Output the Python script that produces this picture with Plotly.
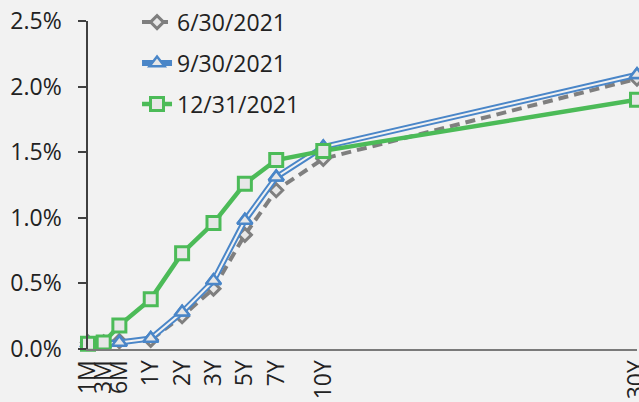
import plotly.graph_objects as go

# Maturities, their positions on the chart's x scale, and yields (%)
maturities = ["1M", "3M", "6M", "1Y", "2Y", "3Y", "5Y", "7Y", "10Y", "30Y"]
x_positions = [0, 0.5, 1, 2, 3, 4, 5, 6, 7.5, 17.5]

y_jun = [0.05, 0.05, 0.06, 0.07, 0.25, 0.46, 0.87, 1.21, 1.45, 2.06]
y_sep = [0.04, 0.04, 0.05, 0.08, 0.28, 0.52, 0.98, 1.31, 1.54, 2.09]
y_dec = [0.04, 0.05, 0.18, 0.38, 0.73, 0.96, 1.26, 1.44, 1.51, 1.90]

series_names = ["6/30/2021", "9/30/2021", "12/31/2021"]
y_ticks = [0, 0.5, 1.0, 1.5, 2.0, 2.5]
y_tick_labels = ["0.0%", "0.5%", "1.0%", "1.5%", "2.0%", "2.5%"]

GRAY = "#7f7f7f"
BLUE = "#4a86c8"
GREEN = "#4cbb58"
FILL = "#e7e7e7"
BG = "#f2f2f2"
FONT = "Open Sans"
FS = 23
TXT = "#222222"

fig = go.Figure()

fig.add_trace(go.Scatter(
    x=x_positions, y=y_jun, name=series_names[0], mode="lines+markers",
    line=dict(color=GRAY, width=4, dash="10px,6px"),
    marker=dict(symbol="diamond", size=10, color=FILL, line=dict(color=GRAY, width=3)),
    cliponaxis=False, legendgroup="a",
))
# blue compound (double) line: thick blue, thin light centre, then markers on top
fig.add_trace(go.Scatter(
    x=x_positions, y=y_sep, name=series_names[1], mode="lines+markers",
    line=dict(color=BLUE, width=6),
    marker=dict(symbol="triangle-up", size=13, color=FILL, line=dict(color=BLUE, width=2.5)),
    cliponaxis=False, legendgroup="b",
))
fig.add_trace(go.Scatter(
    x=x_positions, y=y_sep, mode="lines", showlegend=False, hoverinfo="skip",
    line=dict(color=BG, width=2), cliponaxis=False,
))
fig.add_trace(go.Scatter(
    x=x_positions, y=y_sep, mode="markers", showlegend=False, hoverinfo="skip",
    marker=dict(symbol="triangle-up", size=13, color=FILL, line=dict(color=BLUE, width=2.5)),
    cliponaxis=False,
))
fig.add_trace(go.Scatter(
    x=x_positions, y=y_dec, name=series_names[2], mode="lines+markers",
    line=dict(color=GREEN, width=4.5),
    marker=dict(symbol="square", size=13, color=FILL, line=dict(color=GREEN, width=3)),
    cliponaxis=False, legendgroup="c",
))

fig.update_layout(
    width=639, height=402,
    paper_bgcolor=BG, plot_bgcolor=BG,
    margin=dict(l=88, r=2, t=21, b=53, autoexpand=False),
    font=dict(family=FONT, size=FS, color=TXT),
    showlegend=True,
    legend=dict(
        x=0.0893, y=1.062, xanchor="left", yanchor="top",
        bgcolor="rgba(0,0,0,0)", font=dict(family=FONT, size=FS, color=TXT),
        tracegroupgap=8, itemwidth=30,
    ),
    xaxis=dict(
        range=[0, 17.5], tickmode="array", tickvals=x_positions, ticktext=maturities,
        tickangle=-90, showgrid=False, zeroline=False, automargin=False,
        showline=True, linecolor="#7a7a7a", linewidth=2,
        ticks="", ticklabelstandoff=0, ticklabeloverflow="allow",
        tickfont=dict(family=FONT, size=FS, color=TXT),
    ),
    yaxis=dict(
        range=[0, 2.5], tickmode="array", tickvals=y_ticks, ticktext=y_tick_labels,
        showgrid=False, zeroline=False, automargin=False,
        showline=True, linecolor="#404040", linewidth=1.5,
        ticks="outside", ticklen=8, tickcolor="#404040", tickwidth=1.5,
        ticklabelstandoff=12, ticklabeloverflow="allow",
        tickfont=dict(family=FONT, size=FS, color=TXT),
    ),
)

fig.write_html(
    "out.html",
    config={"displayModeBar": False},
    post_script="document.body.style.margin='0';document.body.style.background='#f2f2f2';",
)
